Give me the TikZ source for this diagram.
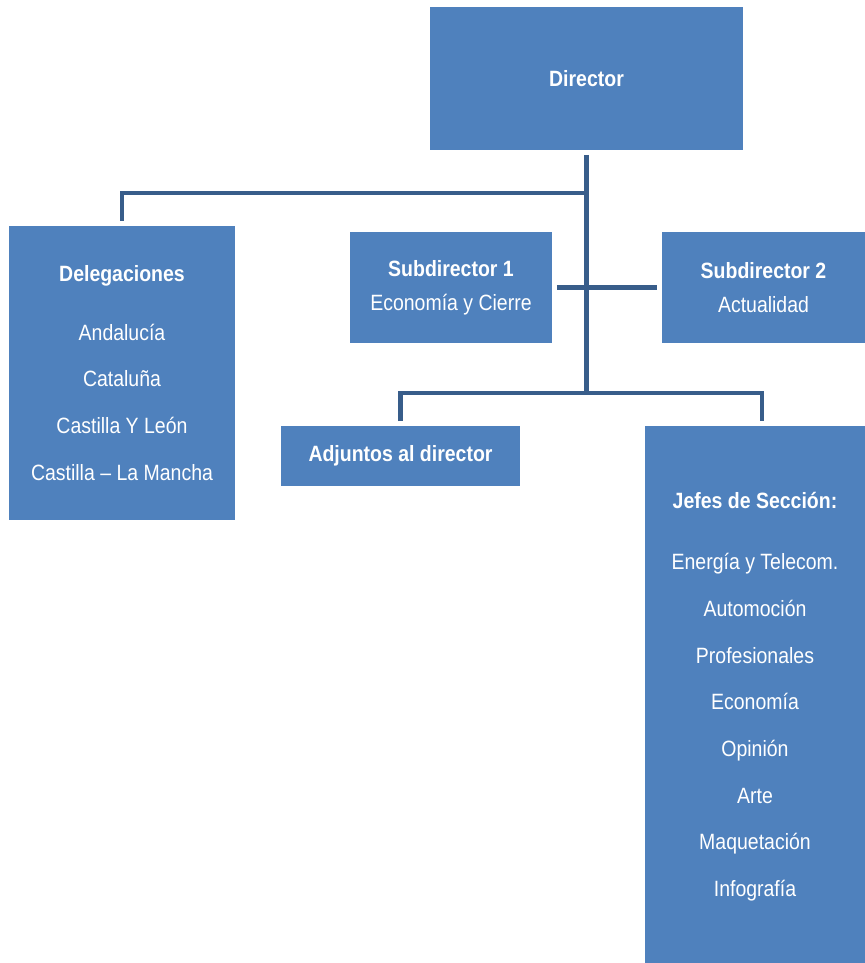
\documentclass[tikz,border=0pt]{standalone}
\usepackage{fontspec}
\setmainfont{Liberation Sans}[FakeStretch=0.88]
\usepackage{tikz}
\usetikzlibrary{positioning,calc}
\definecolor{boxblue}{RGB}{79,129,189}
\definecolor{linkblue}{RGB}{56,93,138}

\begin{document}
\begin{tikzpicture}[x=0.02cm,y=-0.02cm,
    box/.style={fill=boxblue,text=white,align=center,inner sep=0pt,outer sep=0.1cm,
      font=\fontsize{12.6}{26.6}\selectfont},
    link/.style={draw=linkblue,line width=2.3pt}]
  \useasboundingbox (0,0) rectangle (865,963);
  \node[box,minimum width=6.26cm,minimum height=2.86cm] (dir) at (586.5,78.5) {\textbf{Director}};
  \node[box,minimum width=4.52cm,minimum height=5.88cm] (del) at (122,373)
    {\textbf{Delegaciones}\\[6.8pt] Andaluc\'ia\\ Catalu\~na\\ Castilla Y Le\'on\\ Castilla -- La Mancha};
  \node[box,minimum width=4.04cm,minimum height=2.22cm,font=\fontsize{12.6}{19.3}\selectfont] (s1) at (451,287.5)
    {\textbf{Subdirector 1}\\ Econom\'ia y Cierre};
  \node[box,minimum width=4.06cm,minimum height=2.22cm,font=\fontsize{12.6}{19.3}\selectfont] (s2) at (763.5,287.5)
    {\textbf{Subdirector 2}\\ Actualidad};
  \node[box,minimum width=4.78cm,minimum height=1.2cm] (adj) at (400.5,456) {\textbf{Adjuntos al director}};
  \node[box,minimum width=4.4cm,minimum height=10.84cm] (jef) at (755,697)
    {\textbf{Jefes de Secci\'on:}\\[7.9pt] Energ\'ia y Telecom.\\ Automoci\'on\\ Profesionales\\ Econom\'ia\\
     Opini\'on\\ Arte\\ Maquetaci\'on\\ Infograf\'ia};
  % connectors
  \coordinate (fork) at (586,193);
  \coordinate (bus) at (586,393);
  \draw[link] (dir.south) -- (dir.south |- bus);
  \draw[link] (fork) -| (del.north);
  \draw[link] (s1.east) -- (s2.west);
  \draw[link] (adj.north) |- (bus) -| ([xshift=0.14cm]jef.north);
\end{tikzpicture}
\end{document}
